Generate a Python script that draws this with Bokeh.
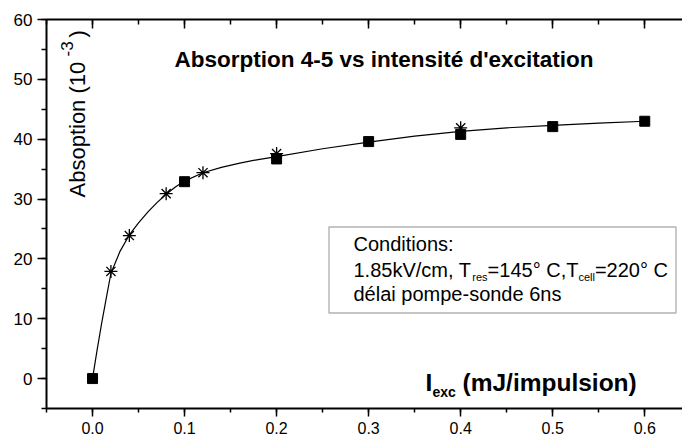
import math
from bokeh.plotting import figure
from bokeh.models import (LinearAxis, SingleIntervalTicker, PrintfTickFormatter,
                          Label, BoxAnnotation, Range1d)
from bokeh.embed import file_html
from bokeh.resources import INLINE

# ---- data ----
square_x = [0.0, 0.1, 0.2, 0.3, 0.4, 0.5, 0.6]
square_y = [0.0, 32.9, 36.7, 39.6, 40.8, 42.1, 43.0]

star_x = [0.02, 0.04, 0.08, 0.12, 0.2, 0.4]
star_y = [17.9, 23.9, 30.9, 34.4, 37.6, 41.9]

fit_x = [0.0, 0.005, 0.01, 0.015, 0.02, 0.03, 0.04, 0.05, 0.06, 0.07, 0.08, 0.09,
         0.1, 0.12, 0.14, 0.16, 0.18, 0.2, 0.25, 0.3, 0.35, 0.4, 0.45, 0.5, 0.55, 0.6]
fit_y = [0.0, 4.8, 9.3, 13.5, 17.6, 21.3, 24.0, 26.0, 27.8, 29.4, 30.8, 32.0,
         33.0, 34.4, 35.3, 36.0, 36.6, 37.1, 38.4, 39.5, 40.5, 41.3, 41.9, 42.3, 42.7, 43.0]

title_text = "Absorption 4-5 vs intensité d'excitation"
ylabel_main = "Absoption (10"
ylabel_sup = "-3"
ylabel_end = ")"
xlabel_main = "I"
xlabel_sub = "exc"
xlabel_end = "(mJ/impulsion)"
cond_line1 = "Conditions:"
cond_line2 = ["1.85kV/cm, T", "res", "=145° C,T", "cell", "=220° C"]
cond_line3 = "délai pompe-sonde 6ns"

FONT = "Liberation Sans"
X0, X1, Y0, Y1 = -0.05, 0.641, -5, 60
FL, FT, FW, FH = 46, 19, 636, 389  # frame geometry in pixels


def px2x(px):
    return X0 + (px - FL) / FW * (X1 - X0)


def py2y(py):
    return Y1 - (py - FT) / FH * (Y1 - Y0)


p = figure(width=682, height=439, output_backend="svg", toolbar_location=None,
           x_range=Range1d(X0, X1), y_range=Range1d(Y0, Y1),
           min_border_left=FL, min_border_right=0, min_border_top=FT,
           min_border_bottom=439 - FT - FH)
p.outline_line_color = None
p.xgrid.visible = False
p.ygrid.visible = False
p.background_fill_color = "white"
p.border_fill_color = "white"


def style_axis(ax, show_labels=True):
    ax.axis_line_width = 2
    ax.axis_line_color = "black"
    ax.major_tick_line_width = 1.5
    ax.minor_tick_line_width = 1.5
    ax.major_tick_line_color = "black"
    ax.minor_tick_line_color = "black"
    ax.major_label_text_font = FONT
    ax.major_label_text_font_size = "16px" if show_labels else "0px"
    ax.major_label_text_color = "black"


xax = p.xaxis[0]
xax.ticker = SingleIntervalTicker(interval=0.1, num_minor_ticks=2)
xax.formatter = PrintfTickFormatter(format="%.1f")
style_axis(xax)
xax.major_tick_out = 8
xax.major_tick_in = 0
xax.minor_tick_out = 4
xax.minor_tick_in = 0
xax.major_label_standoff = 5

yax = p.yaxis[0]
yax.ticker = SingleIntervalTicker(interval=10, num_minor_ticks=2)
style_axis(yax)
yax.major_label_text_font_size = "17px"
yax.major_tick_out = 9
yax.major_tick_in = 0
yax.minor_tick_out = 5
yax.minor_tick_in = 0
yax.major_label_standoff = 5

top = LinearAxis(ticker=SingleIntervalTicker(interval=0.1, num_minor_ticks=2))
style_axis(top, show_labels=False)
top.major_tick_in = 9
top.major_tick_out = 0
top.minor_tick_in = 5
top.minor_tick_out = 0
top.major_label_standoff = 0
top.major_label_text_alpha = 0
p.add_layout(top, "above")

# fitted curve
p.line(fit_x, fit_y, line_color="black", line_width=1.2)
# markers
p.scatter(star_x, star_y, marker="asterisk", size=13, line_color="black", line_width=1.3)
p.scatter(square_x, square_y, marker="square", size=10, fill_color="black", line_color="black")


def lab(px, py, t, size, bold=False, angle=0.0):
    p.add_layout(Label(x=px2x(px), y=py2y(py), text=t, angle=angle,
                       text_align="left", text_baseline="alphabetic",
                       text_font=FONT, text_font_size=f"{size}px",
                       text_font_style="bold" if bold else "normal",
                       text_color="black"))


# title (baseline shift compensates renderer offset)
p.add_layout(Label(x=px2x(383.5), y=py2y(58.5), text=title_text, text_align="center",
                   text_baseline="alphabetic", text_font=FONT, text_font_style="bold",
                   text_font_size="22.5px", text_color="black"))

# y label (rotated, inside the plot)
lab(76.5, 197, ylabel_main, 22, angle=math.pi / 2)
lab(66, 56, ylabel_sup, 17, angle=math.pi / 2)
lab(76.5, 37, ylabel_end, 22, angle=math.pi / 2)

# x label inside the plot
lab(425, 382, xlabel_main, 24.5, bold=True)
lab(432, 391.5, xlabel_sub, 14, bold=True)
lab(462, 382, xlabel_end, 24.5, bold=True)

# conditions box
p.add_layout(BoxAnnotation(left=px2x(328.5), right=px2x(675.5), bottom=py2y(312.5), top=py2y(226.5),
                           fill_alpha=0, line_color="black", line_width=1.4,
                           level="overlay"))

lab(353, 243.5, cond_line1, 20)
lab(353, 293.5, cond_line3, 20)
line2_px = [353, 471.8, 487.1, 577.9, 594.4]
for i, t in enumerate(cond_line2):
    if i % 2 == 1:
        lab(line2_px[i], 276.5, t, 11)
    else:
        lab(line2_px[i], 269.5, t, 20)

open("out.html", "w").write(file_html(p, INLINE))
